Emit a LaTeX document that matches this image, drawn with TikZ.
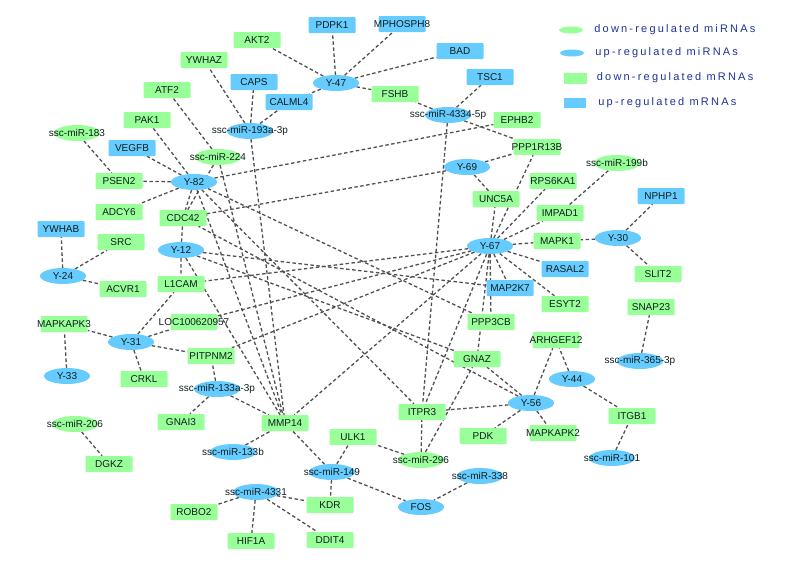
\documentclass[tikz,border=0pt]{standalone}
\usepackage{fontspec}
\setmainfont{Liberation Sans}
\newfontfamily\legendfont[LetterSpace=20]{Liberation Sans}
\usetikzlibrary{shapes.geometric,backgrounds,positioning}
\definecolor{lgreen}{RGB}{153,255,153}
\definecolor{lblue}{RGB}{102,204,255}
\definecolor{legblue}{RGB}{30,50,150}
\definecolor{edgegray}{RGB}{80,80,80}
\definecolor{genetext}{RGB}{15,30,30}
\tikzset{
  gene/.style={inner sep=0pt, text=genetext, font=\fontsize{10}{12}\selectfont,
    execute at begin node={\hbox to 0pt\bgroup\hss}, execute at end node={\hss\egroup}},
  dmir/.style={gene, ellipse, fill=lgreen, minimum width=46pt, minimum height=16pt},
  umir/.style={gene, ellipse, fill=lblue, minimum width=46pt, minimum height=16pt},
  dmrna/.style={gene, rectangle, rounded corners=1pt, fill=lgreen, minimum width=47pt, minimum height=16pt},
  umrna/.style={gene, rectangle, rounded corners=1pt, fill=lblue, minimum width=47pt, minimum height=16pt},
  link/.style={draw=edgegray, line width=1.3pt, dash pattern=on 3.5pt off 2.5pt},
  legkey/.style={inner sep=0pt, minimum width=24pt},
  legtext/.style={inner sep=0pt, text=legblue, font=\legendfont\fontsize{11}{13}\selectfont}
}
\begin{document}
\begin{tikzpicture}[x=1pt, y=-1pt]
\useasboundingbox (0,0) rectangle (786,562);
\node[umir] (y47) at (336,83) {Y-47};
\node[umir] (m193) at (250,131) {ssc-miR-193a-3p};
\node[dmir] (m183) at (77,133) {ssc-miR-183};
\node[dmir] (m224) at (218,157) {ssc-miR-224};
\node[umir] (y82) at (194,182) {Y-82};
\node[umir] (m4334) at (448,115) {ssc-miR-4334-5p};
\node[umir] (y69) at (467,167) {Y-69};
\node[dmir] (m199) at (617,163) {ssc-miR-199b};
\node[umir] (y67) at (490,246) {Y-67};
\node[umir] (y30) at (618,238) {Y-30};
\node[umir] (y12) at (181,250) {Y-12};
\node[umir] (y24) at (63,276) {Y-24};
\node[umir] (y31) at (131,342) {Y-31};
\node[umir] (y33) at (67,376) {Y-33};
\node[umir] (m133a) at (217,389) {ssc-miR-133a-3p};
\node[dmir] (m206) at (75,424) {ssc-miR-206};
\node[umir] (m133b) at (233,452) {ssc-miR-133b};
\node[umir] (m149) at (332,472) {ssc-miR-149};
\node[umir] (m4331) at (256,492) {ssc-miR-4331};
\node[umir] (m365) at (640,361) {ssc-miR-365-3p};
\node[umir] (y44) at (572,379) {Y-44};
\node[umir] (y56) at (531,403) {Y-56};
\node[dmir] (m296) at (421,460) {ssc-miR-296};
\node[umir] (m101) at (612,458) {ssc-miR-101};
\node[umir] (m338) at (480,476) {ssc-miR-338};
\node[umir] (fos) at (421,507) {FOS};
\node[umrna] (pdpk1) at (332,25) {PDPK1};
\node[umrna] (mphosph8) at (402,24) {MPHOSPH8};
\node[dmrna] (akt2) at (257,40) {AKT2};
\node[dmrna] (ywhaz) at (204,60) {YWHAZ};
\node[umrna] (caps) at (254,82) {CAPS};
\node[dmrna] (fshb) at (395,94) {FSHB};
\node[umrna] (bad) at (460,51) {BAD};
\node[umrna] (tsc1) at (490,77) {TSC1};
\node[dmrna] (atf2) at (167,90) {ATF2};
\node[umrna] (calml4) at (289,102) {CALML4};
\node[dmrna] (pak1) at (147,120) {PAK1};
\node[umrna] (vegfb) at (132,148) {VEGFB};
\node[dmrna] (psen2) at (119,181) {PSEN2};
\node[dmrna] (ephb2) at (517,120) {EPHB2};
\node[dmrna] (ppp1r13b) at (537,147) {PPP1R13B};
\node[dmrna] (rps6ka1) at (553,181) {RPS6KA1};
\node[umrna] (nphp1) at (661,196) {NPHP1};
\node[dmrna] (unc5a) at (496,199) {UNC5A};
\node[dmrna] (impad1) at (560,213) {IMPAD1};
\node[dmrna] (mapk1) at (557,241) {MAPK1};
\node[umrna] (rasal2) at (565,269) {RASAL2};
\node[dmrna] (slit2) at (658,274) {SLIT2};
\node[umrna] (map2k7) at (510,288) {MAP2K7};
\node[dmrna] (esyt2) at (565,304) {ESYT2};
\node[dmrna] (snap23) at (651,307) {SNAP23};
\node[dmrna] (ppp3cb) at (491,322) {PPP3CB};
\node[dmrna] (arhgef12) at (556,340) {ARHGEF12};
\node[dmrna] (gnaz) at (477,359) {GNAZ};
\node[dmrna] (itpr3) at (422,412) {ITPR3};
\node[dmrna] (itgb1) at (632,416) {ITGB1};
\node[dmrna] (pdk) at (483,436) {PDK};
\node[dmrna] (mapkapk2) at (553,433) {MAPKAPK2};
\node[dmrna] (adcy6) at (119,212) {ADCY6};
\node[dmrna] (cdc42) at (183,218) {CDC42};
\node[umrna] (ywhab) at (61,229) {YWHAB};
\node[dmrna] (src) at (121,242) {SRC};
\node[dmrna] (acvr1) at (123,289) {ACVR1};
\node[dmrna] (l1cam) at (181,284) {L1CAM};
\node[dmrna] (mapkapk3) at (64,324) {MAPKAPK3};
\node[dmrna] (loc) at (194,322) {LOC100620957};
\node[dmrna] (pitpnm2) at (211,356) {PITPNM2};
\node[dmrna] (crkl) at (144,379) {CRKL};
\node[dmrna] (gnai3) at (181,422) {GNAI3};
\node[dmrna] (mmp14) at (285,423) {MMP14};
\node[dmrna] (ulk1) at (353,437) {ULK1};
\node[dmrna] (dgkz) at (109,464) {DGKZ};
\node[dmrna] (kdr) at (330,505) {KDR};
\node[dmrna] (robo2) at (194,512) {ROBO2};
\node[dmrna] (hif1a) at (251,541) {HIF1A};
\node[dmrna] (ddit4) at (330,540) {DDIT4};
\node[legkey, ellipse, fill=lgreen, minimum height=7pt] (keydmir) at (571,30) {};
\node[legkey, ellipse, fill=lblue, minimum height=7pt] (keyumir) at (572,53) {};
\node[legkey, rectangle, fill=lgreen, minimum width=23pt, minimum height=11pt] (keydmrna) at (575,78) {};
\node[legkey, rectangle, fill=lblue, minimum width=22pt, minimum height=10pt] (keyumrna) at (575,103) {};
\node[legtext, right=11pt of keydmir] (txtdmir) {down-regulated miRNAs};
\node[legtext, right=11pt of keyumir] (txtumir) {up-regulated miRNAs};
\node[legtext, right=10pt of keydmrna] (txtdmrna) {down-regulated mRNAs};
\node[legtext, right=12pt of keyumrna] (txtumrna) {up-regulated mRNAs};
\begin{scope}[on background layer]
\draw[link] (y47) -- (akt2) (y47) -- (pdpk1) (y47) -- (mphosph8) (y47) -- (bad) (y47) -- (fshb) (y47) -- (calml4);
\draw[link] (m193) -- (ywhaz) (m193) -- (caps) (m193) -- (calml4) (m193) -- (mmp14);
\draw[link] (m183) -- (psen2) (m224) -- (atf2) (m224) -- (cdc42) (m224) -- (mmp14);
\draw[link] (y82) -- (pak1) (y82) -- (vegfb) (y82) -- (psen2) (y82) -- (adcy6) (y82) -- (cdc42) (y82) -- (ephb2) (y82) -- (mmp14) (y82) -- (ppp3cb) (y82) -- (itpr3);
\draw[link] (m4334) -- (fshb) (m4334) -- (tsc1) (m4334) -- (ppp1r13b) (m4334) -- (itpr3);
\draw[link] (y69) -- (ppp1r13b) (y69) -- (unc5a) (y69) -- (cdc42) (m199) -- (impad1);
\draw[link] (y30) -- (nphp1) (y30) -- (mapk1) (y30) -- (slit2);
\draw[link] (y67) -- (unc5a) (y67) -- (ppp1r13b) (y67) -- (rps6ka1) (y67) -- (impad1) (y67) -- (mapk1) (y67) -- (rasal2) (y67) -- (esyt2) (y67) -- (map2k7) (y67) -- (ppp3cb) (y67) -- (gnaz) (y67) -- (itpr3) (y67) -- (l1cam) (y67) -- (loc) (y67) -- (pitpnm2) (y67) -- (mmp14);
\draw[link] (y12) -- (cdc42) (y12) -- (l1cam) (y12) -- (mmp14) (y12) -- (map2k7) (y12) -- (gnaz);
\draw[link] (y24) -- (ywhab) (y24) -- (src) (y24) -- (acvr1);
\draw[link] (y31) -- (mapkapk3) (y31) -- (l1cam) (y31) -- (loc) (y31) -- (pitpnm2) (y31) -- (crkl) (y33) -- (mapkapk3);
\draw[link] (m133a) -- (pitpnm2) (m133a) -- (gnai3) (m133a) -- (mmp14) (m206) -- (dgkz) (m133b) -- (mmp14);
\draw[link] (m149) -- (mmp14) (m149) -- (ulk1) (m149) -- (kdr) (m149) -- (fos) (m338) -- (fos);
\draw[link] (m4331) -- (robo2) (m4331) -- (hif1a) (m4331) -- (ddit4) (m4331) -- (kdr);
\draw[link] (m365) -- (snap23) (y44) -- (arhgef12) (y44) -- (itgb1) (m101) -- (itgb1);
\draw[link] (y56) -- (arhgef12) (y56) -- (gnaz) (y56) -- (itpr3) (y56) -- (pdk) (y56) -- (mapkapk2) (y56) -- (cdc42);
\draw[link] (m296) -- (itpr3) (m296) -- (gnaz) (m296) -- (ulk1);
\end{scope}
\end{tikzpicture}
\end{document}
